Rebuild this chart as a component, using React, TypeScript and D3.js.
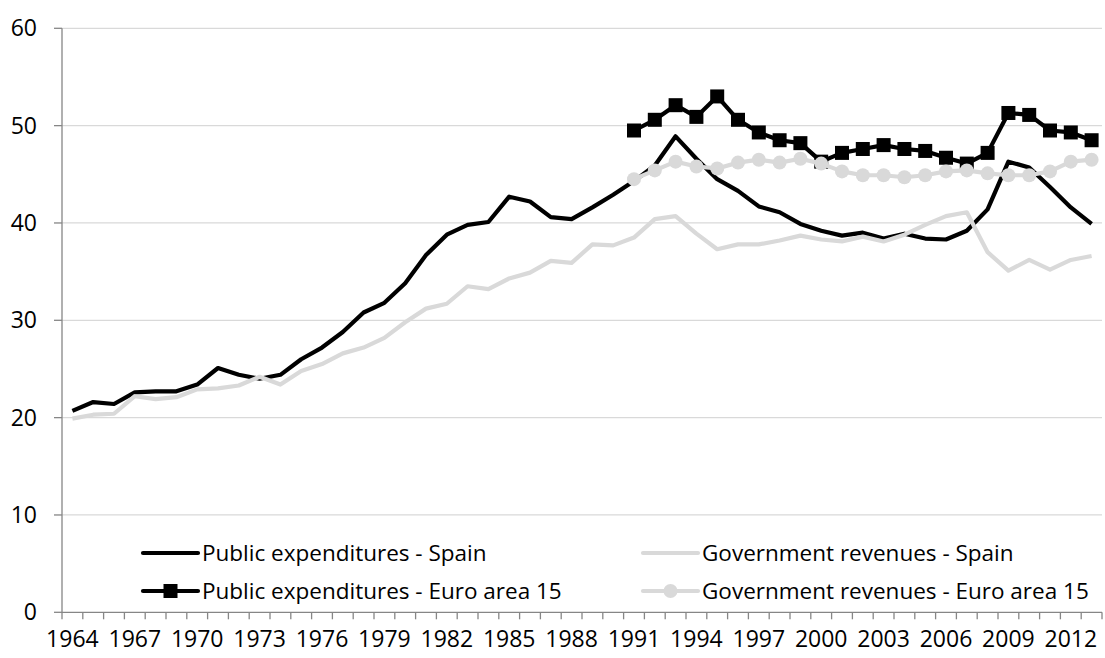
import React, { useEffect, useRef } from "react";
import * as d3 from "d3";

// years on the category axis
const years: number[] = d3.range(1964, 2014);
const euroYears: number[] = d3.range(1991, 2014);

// % of GDP
const spainExpenditures: number[] = [
  20.7, 21.6, 21.4, 22.6, 22.7, 22.7, 23.4, 25.1, 24.4, 24.0,
  24.4, 26.0, 27.2, 28.8, 30.8, 31.8, 33.8, 36.7, 38.8, 39.8,
  40.1, 42.7, 42.2, 40.6, 40.4, 41.6, 42.9, 44.3, 45.9, 48.9,
  46.6, 44.5, 43.3, 41.7, 41.1, 39.9, 39.2, 38.7, 39.0, 38.4,
  38.9, 38.4, 38.3, 39.2, 41.4, 46.3, 45.7, 43.7, 41.6, 39.9,
];
const spainRevenues: number[] = [
  19.9, 20.3, 20.4, 22.2, 21.9, 22.1, 22.9, 23.0, 23.3, 24.2,
  23.4, 24.8, 25.5, 26.6, 27.2, 28.2, 29.8, 31.2, 31.7, 33.5,
  33.2, 34.3, 34.9, 36.1, 35.9, 37.8, 37.7, 38.5, 40.4, 40.7,
  38.9, 37.3, 37.8, 37.8, 38.2, 38.7, 38.3, 38.1, 38.6, 38.1,
  38.8, 39.8, 40.7, 41.1, 37.0, 35.1, 36.2, 35.2, 36.2, 36.6,
];
const euroExpenditures: number[] = [
  49.5, 50.6, 52.1, 50.9, 53.0, 50.6, 49.3, 48.5, 48.2, 46.3,
  47.2, 47.6, 48.0, 47.6, 47.4, 46.7, 46.1, 47.2, 51.3, 51.1,
  49.5, 49.3, 48.5,
];
const euroRevenues: number[] = [
  44.5, 45.4, 46.3, 45.8, 45.6, 46.2, 46.5, 46.2, 46.6, 46.1,
  45.3, 44.9, 44.9, 44.7, 44.9, 45.3, 45.4, 45.1, 44.9, 44.9,
  45.3, 46.3, 46.5,
];
const yTicks: number[] = [0, 10, 20, 30, 40, 50, 60];

const BLACK = "#000000";
const GREY = "#d9d9d9";
const FONT = "'Open Sans', sans-serif";

const App = () => {
  const svgRef = useRef<SVGSVGElement | null>(null);

  useEffect(() => {
    const svg = d3.select(svgRef.current);
    svg.selectAll("*").remove();

    const width = 1105;
    const height = 658;
    const left = 62;
    const right = 1102;
    const top = 28.3;
    const bottom = 612.3;

    const x = d3.scaleBand<number>().domain(years).range([left, right]).padding(0);
    const cx = (yr: number) => (x(yr) as number) + x.bandwidth() / 2;
    const y = d3.scaleLinear().domain([0, 60]).range([bottom, top]);

    svg.attr("width", width).attr("height", height);

    // gridlines
    svg
      .append("g")
      .selectAll("line")
      .data(yTicks.filter((t) => t > 0))
      .enter()
      .append("line")
      .attr("x1", left)
      .attr("x2", right)
      .attr("y1", (d) => y(d))
      .attr("y2", (d) => y(d))
      .attr("stroke", "#d9d9d9")
      .attr("stroke-width", 1.3);

    // y axis
    const yAxis = svg.append("g");
    yAxis
      .append("line")
      .attr("x1", left)
      .attr("x2", left)
      .attr("y1", top)
      .attr("y2", bottom)
      .attr("stroke", "#868686")
      .attr("stroke-width", 1.3);
    yAxis
      .selectAll(".ytick")
      .data(yTicks)
      .enter()
      .append("line")
      .attr("x1", left - 8)
      .attr("x2", left)
      .attr("y1", (d) => y(d))
      .attr("y2", (d) => y(d))
      .attr("stroke", "#868686")
      .attr("stroke-width", 1.3);
    yAxis
      .selectAll("text")
      .data(yTicks)
      .enter()
      .append("text")
      .attr("x", 37)
      .attr("y", (d) => y(d))
      .attr("dy", "0.35em")
      .attr("text-anchor", "end")
      .attr("font-family", FONT)
      .attr("font-size", 23)
      .attr("fill", "#000")
      .text((d) => d);

    // x axis (category boundaries)
    const xAxis = svg.append("g");
    xAxis
      .append("line")
      .attr("x1", left)
      .attr("x2", right)
      .attr("y1", bottom)
      .attr("y2", bottom)
      .attr("stroke", "#868686")
      .attr("stroke-width", 1.3);
    xAxis
      .selectAll(".xtick")
      .data([...years, 2014])
      .enter()
      .append("line")
      .attr("x1", (d) => (d === 2014 ? right : (x(d) as number)))
      .attr("x2", (d) => (d === 2014 ? right : (x(d) as number)))
      .attr("y1", bottom)
      .attr("y2", bottom + 7)
      .attr("stroke", "#868686")
      .attr("stroke-width", 1.3);
    xAxis
      .selectAll("text")
      .data(years.filter((yr) => (yr - 1964) % 3 === 0))
      .enter()
      .append("text")
      .attr("x", (d) => cx(d))
      .attr("y", 647)
      .attr("text-anchor", "middle")
      .attr("font-family", FONT)
      .attr("font-size", 23)
      .attr("fill", "#000")
      .text((d) => d);

    const line = d3
      .line<[number, number]>()
      .x((d) => cx(d[0]))
      .y((d) => y(d[1]));

    const drawSeries = (
      yrs: number[],
      vals: number[],
      color: string,
      marker: "none" | "square" | "circle"
    ) => {
      const pts: [number, number][] = yrs.map((yr, i) => [yr, vals[i]]);
      const g = svg.append("g");
      g.append("path")
        .datum(pts)
        .attr("d", line)
        .attr("fill", "none")
        .attr("stroke", color)
        .attr("stroke-width", 4.2)
        .attr("stroke-linejoin", "round");
      if (marker === "square") {
        g.selectAll("rect")
          .data(pts)
          .enter()
          .append("rect")
          .attr("x", (d) => cx(d[0]) - 7)
          .attr("y", (d) => y(d[1]) - 7)
          .attr("width", 14)
          .attr("height", 14)
          .attr("fill", color);
      } else if (marker === "circle") {
        g.selectAll("circle")
          .data(pts)
          .enter()
          .append("circle")
          .attr("cx", (d) => cx(d[0]))
          .attr("cy", (d) => y(d[1]))
          .attr("r", 7)
          .attr("fill", color);
      }
    };

    drawSeries(years, spainExpenditures, BLACK, "none");
    drawSeries(years, spainRevenues, GREY, "none");
    drawSeries(euroYears, euroExpenditures, BLACK, "square");
    drawSeries(euroYears, euroRevenues, GREY, "circle");

    // legend
    const legendItems = [
      { label: "Public expenditures - Spain", color: BLACK, marker: "none", lx: 143, ly: 553 },
      { label: "Government revenues - Spain", color: GREY, marker: "none", lx: 643, ly: 553 },
      { label: "Public expenditures - Euro area 15", color: BLACK, marker: "square", lx: 143, ly: 591 },
      { label: "Government revenues - Euro area 15", color: GREY, marker: "circle", lx: 643, ly: 591 },
    ];
    const legend = svg.append("g");
    legendItems.forEach((item) => {
      const g = legend.append("g");
      g.append("line")
        .attr("x1", item.lx)
        .attr("x2", item.lx + 55)
        .attr("y1", item.ly)
        .attr("y2", item.ly)
        .attr("stroke", item.color)
        .attr("stroke-width", 4.2)
        .attr("stroke-linecap", "round");
      if (item.marker === "square") {
        g.append("rect")
          .attr("x", item.lx + 27.5 - 7)
          .attr("y", item.ly - 7)
          .attr("width", 14)
          .attr("height", 14)
          .attr("fill", item.color);
      } else if (item.marker === "circle") {
        g.append("circle")
          .attr("cx", item.lx + 27.5)
          .attr("cy", item.ly)
          .attr("r", 7)
          .attr("fill", item.color);
      }
      g.append("text")
        .attr("x", item.lx + 59)
        .attr("y", item.ly)
        .attr("dy", "0.35em")
        .attr("font-family", FONT)
        .attr("font-size", 22.5)
        .attr("fill", "#000")
        .text(item.label);
    });
  }, []);

  return (
    <svg
      ref={svgRef}
      style={{ position: "absolute", left: 0, top: 0, background: "#fff" }}
    ></svg>
  );
};

export default App;
